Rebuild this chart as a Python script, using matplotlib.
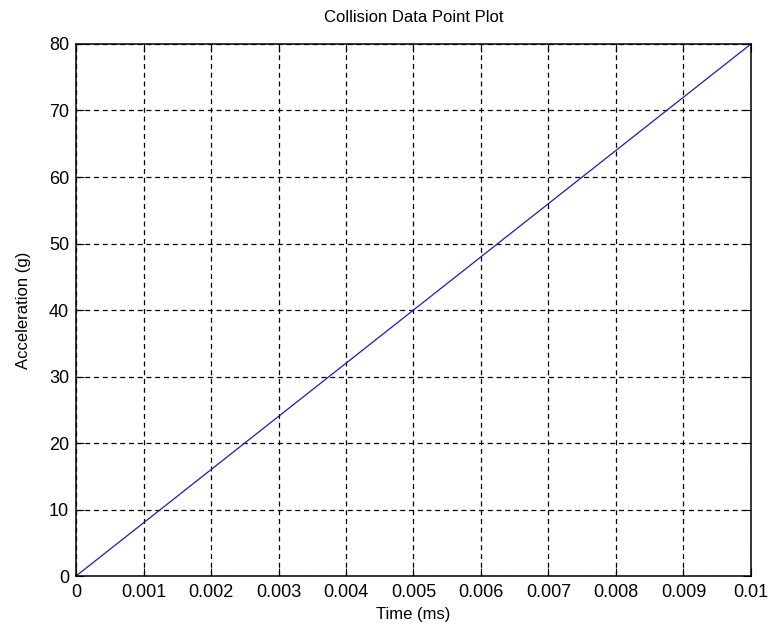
import matplotlib.pyplot as plt

tiempo = [0, 0.001, 0.002, 0.003, 0.004, 0.005, 0.006, 0.007, 0.008, 0.009, 0.01]
aceleracion = [0, 8, 16, 24, 32, 40, 48, 56, 64, 72, 80]
xticks = [0, 0.001, 0.002, 0.003, 0.004, 0.005, 0.006, 0.007, 0.008, 0.009, 0.01]
xlabels = ["0", "0.001", "0.002", "0.003", "0.004", "0.005", "0.006", "0.007", "0.008", "0.009", "0.01"]
yticks = [0, 10, 20, 30, 40, 50, 60, 70, 80]

plt.rcParams["font.family"] = ["Liberation Sans", "DejaVu Sans"]

fig = plt.figure(figsize=(7.71, 6.33), dpi=100)
ax = fig.add_axes([0.0986, 0.090, 0.8754, 0.8405])

ax.plot(tiempo, aceleracion, color="#1a1ad0", linewidth=0.9)
ax.set_xlim(0, 0.01)
ax.set_ylim(0, 80)
ax.set_xticks(xticks)
ax.set_xticklabels(xlabels)
ax.set_yticks(yticks)
ax.grid(True, color="black", linestyle=(0, (4, 3)), linewidth=0.9)
ax.tick_params(direction="in", top=True, right=True, labelsize=13, length=6, pad=5)
ax.tick_params(axis="x", pad=6)
for s in ax.spines.values():
    s.set_linewidth(1.1)

ax.set_title("Collision Data Point Plot", fontsize=12, pad=16)
ax.set_xlabel("Time (ms)", fontsize=12, labelpad=4)
ax.set_ylabel("Acceleration (g)", fontsize=12, labelpad=13)

fig.savefig("out.png", dpi=100)
